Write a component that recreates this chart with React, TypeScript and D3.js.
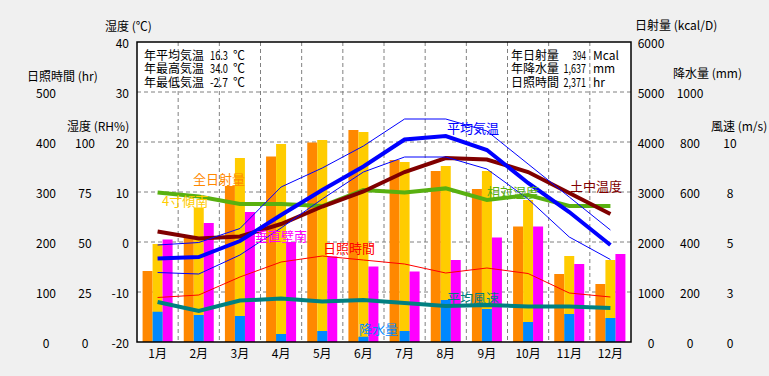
import React from "react";
import * as d3 from "d3";

const months = ["1月","2月","3月","4月","5月","6月","7月","8月","9月","10月","11月","12月"];
// bars (kcal/D)
const solarTotal = [1420, 2090, 3120, 3710, 3990, 4240, 3640, 3420, 3060, 2310, 1360, 1160];
const solarTilt = [1960, 2690, 3680, 3960, 4040, 4200, 3600, 3520, 3420, 2840, 1720, 1640];
const solarWall = [2050, 2380, 2600, 2000, 1710, 1510, 1410, 1640, 2090, 2310, 1560, 1760];
// precipitation (mm)
const rain = [121, 108, 104, 32, 44, 21, 44, 168, 132, 80, 112, 96];
// temperatures (°C)
const tempMean = [-3.3, -3.0, 0.2, 5.4, 10.4, 15.1, 20.5, 21.2, 18.4, 11.8, 6.0, -0.6];
const tempMax = [-0.6, -0.1, 2.7, 11.0, 14.8, 19.2, 24.6, 24.6, 22.2, 15.6, 9.0, 2.4];
const tempMin = [-6.1, -6.4, -2.6, 2.8, 8.6, 14.0, 17.0, 17.0, 14.6, 8.6, 1.0, -3.5];
const soilTemp = [2.1, 0.7, 1.1, 3.6, 7.1, 10.1, 14.0, 16.8, 16.5, 14.0, 9.8, 5.6];
// humidity (RH%)
const humidity = [74.8, 72.7, 69, 69, 68, 76, 74.7, 76.8, 71, 73.5, 68, 68];
// sunshine hours (hr)
const sunshine = [89, 94, 130, 160, 172, 164, 156, 138, 148, 137, 98, 90];
// wind speed (m/s)
const wind = [2.0, 1.55, 2.07, 2.17, 2.02, 2.1, 1.95, 1.8, 1.85, 1.78, 1.77, 1.7];

const tempTicks = [-20, -10, 0, 10, 20, 30, 40];
const hrTicks = [0, 100, 200, 300, 400, 500];
const rhTicks = [0, 25, 50, 75, 100];
const solTicks = [0, 1000, 2000, 3000, 4000, 5000, 6000];
const rainTicks = [0, 200, 400, 600, 800, 1000];
const windTicks = [0, 2.5, 5, 7.5, 10];

const infoLeft = [["年平均気温", "16.3", "℃"], ["年最高気温", "34.0", "℃"], ["年最低気温", "-2.7", "℃"]];
const infoRight = [["年日射量", "394", "Mcal"], ["年降水量", "1,637", "mm"], ["日照時間", "2,371", "hr"]];

const W = 769, H = 376;
const L = 137, R = 631, T = 42, B = 342;
const FONT = "'Noto Sans CJK JP', 'DejaVu Sans', sans-serif";

export default function App() {
  const x = d3.scaleBand<string>().domain(months).range([L, R]).padding(0);
  const sub = d3.scaleBand<string>().domain(["a", "b", "c"]).range([-15, 15]).padding(0);
  const cx = (m: string) => (x(m) as number) + x.bandwidth() / 2;
  const yT = d3.scaleLinear().domain([-20, 40]).range([B, T]);
  const yHr = d3.scaleLinear().domain([0, 600]).range([B, T]);
  const yRH = d3.scaleLinear().domain([0, 150]).range([B, T]);
  const yS = d3.scaleLinear().domain([0, 6000]).range([B, T]);
  const yRain = d3.scaleLinear().domain([0, 1200]).range([B, T]);
  const yW = d3.scaleLinear().domain([0, 15]).range([B, T]);

  const mk = (vals: number[], s: d3.ScaleLinear<number, number>) =>
    d3.line<number>().x((_, i) => cx(months[i])).y((v) => s(v))(vals) || "";

  const bar = (vals: number[], key: string, s: d3.ScaleLinear<number, number>, color: string) =>
    vals.map((v, i) => (
      <rect key={key + i} x={cx(months[i]) + (sub(key) as number)} width={sub.bandwidth()}
        y={s(v)} height={B - s(v)} fill={color} />
    ));

  const txt = (t: string, xx: number, yy: number, fill = "#000", anchor = "start", size = 12, len?: number) => (
    <text x={xx} y={yy} fill={fill} textAnchor={anchor} fontSize={size} dominantBaseline="central"
      fontFamily={FONT} {...(len ? { textLength: len, lengthAdjust: "spacingAndGlyphs" } : {})}>{t}</text>
  );

  const numLen = (s: string) => s.length * 4.5 + (s.includes(",") ? 0 : 0);

  return (
    <svg width={W} height={H} style={{ position: "absolute", left: 0, top: 0 }}>
      <rect x={0} y={0} width={W} height={H} fill="#f0f0f0" />
      <rect x={L} y={T} width={R - L} height={B - T} fill="#fff" />
      {/* grid */}
      {tempTicks.slice(1, -1).map((t) => (
        <line key={"h" + t} x1={L} x2={R} y1={yT(t)} y2={yT(t)} stroke="#808080" strokeDasharray="4,3" />
      ))}
      {months.slice(1).map((m) => (
        <line key={"v" + m} x1={x(m) as number} x2={x(m) as number} y1={T} y2={B} stroke="#808080" strokeDasharray="4,3" />
      ))}
      {/* bars */}
      {bar(solarTotal, "a", yS, "#ff8800")}
      {bar(solarTilt, "b", yS, "#ffcc00")}
      {bar(solarWall, "c", yS, "#ff00ff")}
      {bar(rain, "b", yRain, "#0088ff")}
      {/* lines */}
      <path d={mk(sunshine, yHr)} fill="none" stroke="#ff0000" strokeWidth={1} />
      <path d={mk(wind, yW)} fill="none" stroke="#008080" strokeWidth={4} />
      <path d={mk(humidity, yRH)} fill="none" stroke="#58b010" strokeWidth={4} />
      <path d={mk(soilTemp, yT)} fill="none" stroke="#800000" strokeWidth={4} />
      <path d={mk(tempMax, yT)} fill="none" stroke="#0000ff" strokeWidth={1} />
      <path d={mk(tempMin, yT)} fill="none" stroke="#0000ff" strokeWidth={1} />
      <path d={mk(tempMean, yT)} fill="none" stroke="#0000ff" strokeWidth={4} />
      <rect x={L} y={T} width={R - L} height={B - T} fill="none" stroke="#000" strokeWidth={1.5} />
      {/* series labels */}
      {txt("全日射量", 193, 178, "#ff8800", "start", 13)}
      {txt("4寸傾南", 162, 200, "#ffcc00", "start", 13)}
      {txt("垂直壁南", 255, 235, "#ff00ff", "start", 13)}
      {txt("平均気温", 447, 127, "#0000ff", "start", 13)}
      {txt("土中温度", 570, 185, "#800000", "start", 13)}
      {txt("相対湿度", 487, 191, "#58b010", "start", 13)}
      {txt("日照時間", 323, 247, "#ff0000", "start", 13)}
      {txt("平均風速", 447, 297, "#008080", "start", 13)}
      {txt("降水量", 359, 328, "#0088ff", "start", 13)}
      {/* month labels */}
      {months.map((m) => <g key={"m" + m}>{txt(m, cx(m), 352, "#000", "middle")}</g>)}
      {/* left axes */}
      {tempTicks.map((t) => <g key={"tt" + t}>{txt(String(t), 129, yT(t), "#000", "end")}</g>)}
      {hrTicks.map((t) => <g key={"ht" + t}>{txt(String(t), 46, yHr(t), "#000", "middle")}</g>)}
      {rhTicks.map((t) => <g key={"rt" + t}>{txt(String(t), 85, yRH(t), "#000", "middle")}</g>)}
      {txt("湿度 (℃)", 105, 25)}
      {txt("日照時間 (hr)", 27, 75)}
      {txt("湿度 (RH%)", 67, 125)}
      {/* right axes */}
      {solTicks.map((t) => <g key={"st" + t}>{txt(String(t), 651, yS(t), "#000", "middle")}</g>)}
      {rainTicks.map((t) => <g key={"pt" + t}>{txt(String(t), 690, yRain(t), "#000", "middle")}</g>)}
      {windTicks.map((t) => <g key={"wt" + t}>{txt(String(Math.round(t)), 730, yW(t), "#000", "middle")}</g>)}
      {txt("日射量 (kcal/D)", 635, 24)}
      {txt("降水量 (mm)", 673, 72)}
      {txt("風速 (m/s)", 711, 125)}
      {/* info boxes */}
      {infoLeft.map((r, i) => (
        <g key={"il" + i}>
          {txt(r[0], 144, 54 + i * 13.5)}
          {txt(r[1], 228, 54 + i * 13.5, "#000", "end", 12, numLen(r[1]))}
          {txt(r[2], 233, 54 + i * 13.5)}
        </g>
      ))}
      {infoRight.map((r, i) => (
        <g key={"ir" + i}>
          {txt(r[0], 511, 54 + i * 13.5)}
          {txt(r[1], 586, 54 + i * 13.5, "#000", "end", 12, numLen(r[1]))}
          {txt(r[2], 593, 54 + i * 13.5)}
        </g>
      ))}
    </svg>
  );
}
